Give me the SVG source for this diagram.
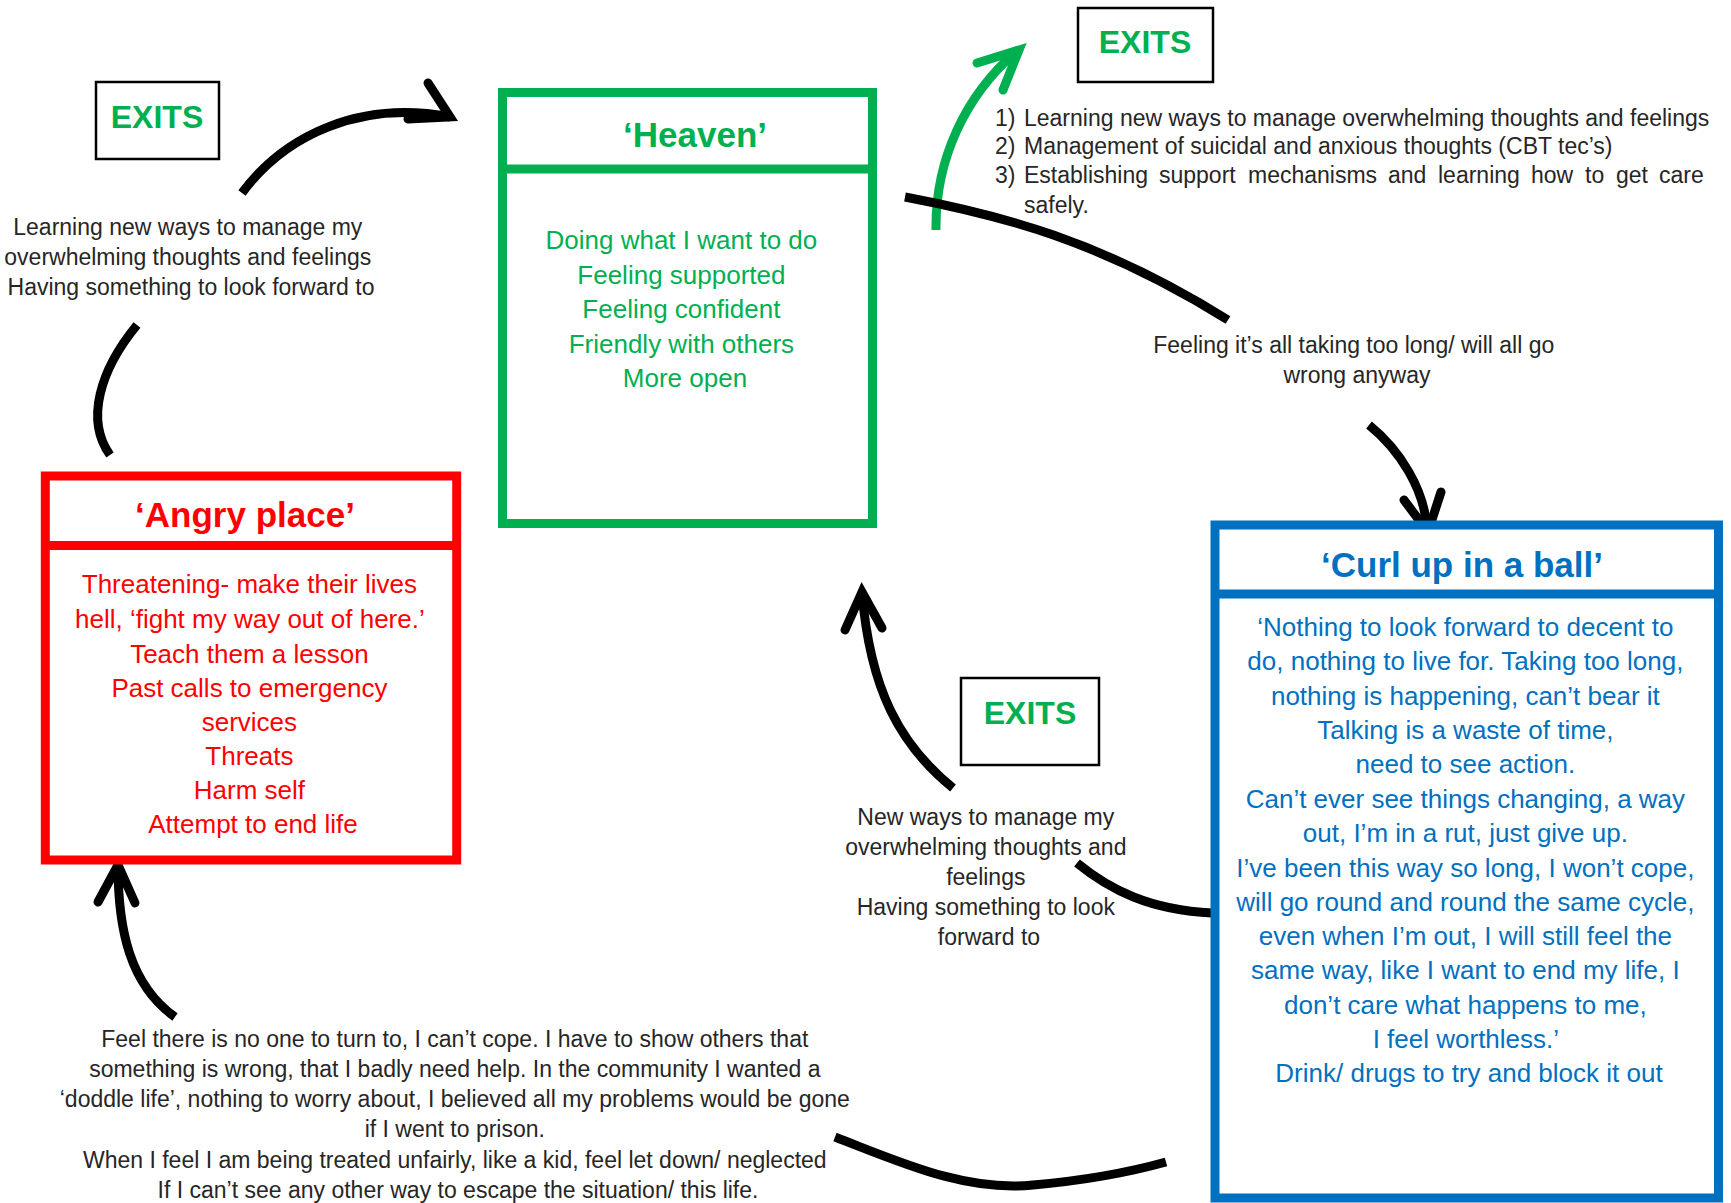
<svg xmlns="http://www.w3.org/2000/svg" width="1731" height="1203" viewBox="0 0 1731 1203">
<style>
text{font-family:"Liberation Sans",Arial,sans-serif}
.lbl{font-size:23px;fill:#262626;text-anchor:middle}
.lst{font-size:23px;fill:#262626}
.ex{font-size:32px;font-weight:bold;fill:#00b050;text-anchor:middle}
.exbox{fill:#fff;stroke:#000;stroke-width:2.5}
.title{font-size:35px;font-weight:bold;text-anchor:middle}
.body{font-size:26px;text-anchor:middle}
.box{fill:#fff;stroke-width:9}
.conn{fill:none;stroke:#000;stroke-width:9}
.head{fill:none;stroke:#000;stroke-width:9;stroke-linecap:round;stroke-linejoin:miter}
.g{stroke:#00b050}
.green{fill:#00b050}
.red{fill:#ff0000}
.blue{fill:#0070c0}
</style>
<rect width="1731" height="1203" fill="#fff"/>

<g id="connectors">
  <path class="conn" d="M242,193 C285,135 360,100 450,117"/>
  <polyline class="head" points="428,83 450,117 408,119"/>
  <path class="conn" d="M137,325 C100,370 85,420 110,455"/>
  <path class="conn g" d="M936,230 C935,160 965,95 1018,50"/>
  <polyline class="head g" points="977,63 1019,50 1003,90"/>
  <path class="conn" d="M905,197 C1000,215 1100,240 1228,320"/>
  <path class="conn" d="M1369,425 C1400,450 1425,490 1427,530"/>
  <polyline class="head" points="1404,500 1428,532 1441,492"/>
  <path class="conn" d="M953,788 C900,745 870,690 862,592"/>
  <polyline class="head" points="845,630 862,592 882,628"/>
  <path class="conn" d="M1077,863 C1110,890 1150,910 1212,913"/>
  <path class="conn" d="M175,1017 C130,985 118,930 118,865"/>
  <polyline class="head" points="98,902 118,865 135,903"/>
  <path class="conn" d="M835,1137 C900,1162 965,1192 1033,1185 C1090,1180 1130,1172 1166,1162"/>
</g>

<g id="heaven">
  <rect class="box" x="502.5" y="92.5" width="370" height="431" stroke="#00b050"/>
  <line x1="502.5" y1="169" x2="872.5" y2="169" stroke="#00b050" stroke-width="9"/>
  <text class="title green" x="695" y="147">‘Heaven’</text>
  <text class="body green">
    <tspan x="685" y="249">Doing what I want to do</tspan>
    <tspan x="685" y="284">Feeling supported</tspan>
    <tspan x="685" y="318">Feeling confident</tspan>
    <tspan x="685" y="353">Friendly with others</tspan>
    <tspan x="685" y="387">More open</tspan>
  </text>
</g>

<g id="angry-place">
  <rect class="box" x="45.3" y="476" width="411.4" height="384" stroke="#ff0000"/>
  <line x1="45.3" y1="545.5" x2="456.7" y2="545.5" stroke="#ff0000" stroke-width="9"/>
  <text class="title red" x="245" y="527">‘Angry place’</text>
  <text class="body red">
    <tspan x="253" y="593">Threatening- make their lives</tspan>
    <tspan x="253" y="628">hell, ‘fight my way out of here.’</tspan>
    <tspan x="253" y="663">Teach them a lesson</tspan>
    <tspan x="253" y="697">Past calls to emergency</tspan>
    <tspan x="253" y="731">services</tspan>
    <tspan x="253" y="765">Threats</tspan>
    <tspan x="253" y="799">Harm self</tspan>
    <tspan x="253" y="833">Attempt to end life</tspan>
  </text>
</g>

<g id="curl-up">
  <rect class="box" x="1215" y="525" width="503.5" height="673" stroke="#0070c0"/>
  <line x1="1215" y1="594" x2="1718.5" y2="594" stroke="#0070c0" stroke-width="9"/>
  <text class="title blue" x="1462" y="577">‘Curl up in a ball’</text>
  <text class="body blue">
    <tspan x="1469" y="636">‘Nothing to look forward to decent to</tspan>
    <tspan x="1469" y="670">do, nothing to live for. Taking too long,</tspan>
    <tspan x="1469" y="705">nothing is happening, can’t bear it</tspan>
    <tspan x="1469" y="739">Talking is a waste of time,</tspan>
    <tspan x="1469" y="773">need to see action.</tspan>
    <tspan x="1469" y="808">Can’t ever see things changing, a way</tspan>
    <tspan x="1469" y="842">out, I’m in a rut, just give up.</tspan>
    <tspan x="1469" y="877">I’ve been this way so long, I won’t cope,</tspan>
    <tspan x="1469" y="911">will go round and round the same cycle,</tspan>
    <tspan x="1469" y="945">even when I’m out, I will still feel the</tspan>
    <tspan x="1469" y="979">same way, like I want to end my life, I</tspan>
    <tspan x="1469" y="1014">don’t care what happens to me,</tspan>
    <tspan x="1469" y="1048">I feel worthless.’</tspan>
    <tspan x="1469" y="1082">Drink/ drugs to try and block it out</tspan>
  </text>
</g>

<g id="exits-left">
  <rect class="exbox" x="96" y="82" width="123" height="77"/>
  <text class="ex" x="157" y="128">EXITS</text>
</g>

<g id="exits-top">
  <rect class="exbox" x="1078" y="8" width="135" height="74"/>
  <text class="ex" x="1145" y="53">EXITS</text>
</g>

<g id="exits-middle">
  <rect class="exbox" x="961" y="678" width="138" height="87"/>
  <text class="ex" x="1030" y="724">EXITS</text>
</g>

<g id="label-left">
  <text class="lbl">
    <tspan x="191" y="235">Learning new ways to manage my</tspan>
    <tspan x="191" y="265">overwhelming thoughts and feelings</tspan>
    <tspan x="191" y="295">Having something to look forward to</tspan>
  </text>
</g>

<g id="label-exits-list">
  <text class="lst">
    <tspan x="995" y="126">1)</tspan><tspan x="1024" y="126">Learning new ways to manage overwhelming thoughts and feelings</tspan>
    <tspan x="995" y="154">2)</tspan><tspan x="1024" y="154">Management of suicidal and anxious thoughts (CBT tec’s)</tspan>
    <tspan x="995" y="183">3)</tspan><tspan x="1024" y="183">Establishing</tspan><tspan x="1159" y="183">support</tspan><tspan x="1248" y="183">mechanisms</tspan><tspan x="1388" y="183">and</tspan><tspan x="1438" y="183">learning</tspan><tspan x="1531" y="183">how</tspan><tspan x="1585" y="183">to</tspan><tspan x="1616" y="183">get</tspan><tspan x="1659" y="183">care</tspan>
    <tspan x="1024" y="213">safely.</tspan>
  </text>
</g>

<g id="label-right">
  <text class="lbl">
    <tspan x="1357" y="353">Feeling it’s all taking too long/ will all go</tspan>
    <tspan x="1357" y="383">wrong anyway</tspan>
  </text>
</g>

<g id="label-middle">
  <text class="lbl">
    <tspan x="989" y="825">New ways to manage my</tspan>
    <tspan x="989" y="855">overwhelming thoughts and</tspan>
    <tspan x="989" y="885">feelings</tspan>
    <tspan x="989" y="915">Having something to look</tspan>
    <tspan x="989" y="945">forward to</tspan>
  </text>
</g>

<g id="label-bottom">
  <text class="lbl">
    <tspan x="458" y="1047">Feel there is no one to turn to, I can’t cope. I have to show others that</tspan>
    <tspan x="458" y="1077">something is wrong, that I badly need help. In the community I wanted a</tspan>
    <tspan x="458" y="1107">‘doddle life’, nothing to worry about, I believed all my problems would be gone</tspan>
    <tspan x="458" y="1137">if I went to prison.</tspan>
    <tspan x="458" y="1168">When I feel I am being treated unfairly, like a kid, feel let down/ neglected</tspan>
    <tspan x="458" y="1198">If I can’t see any other way to escape the situation/ this life.</tspan>
  </text>
</g>
</svg>
